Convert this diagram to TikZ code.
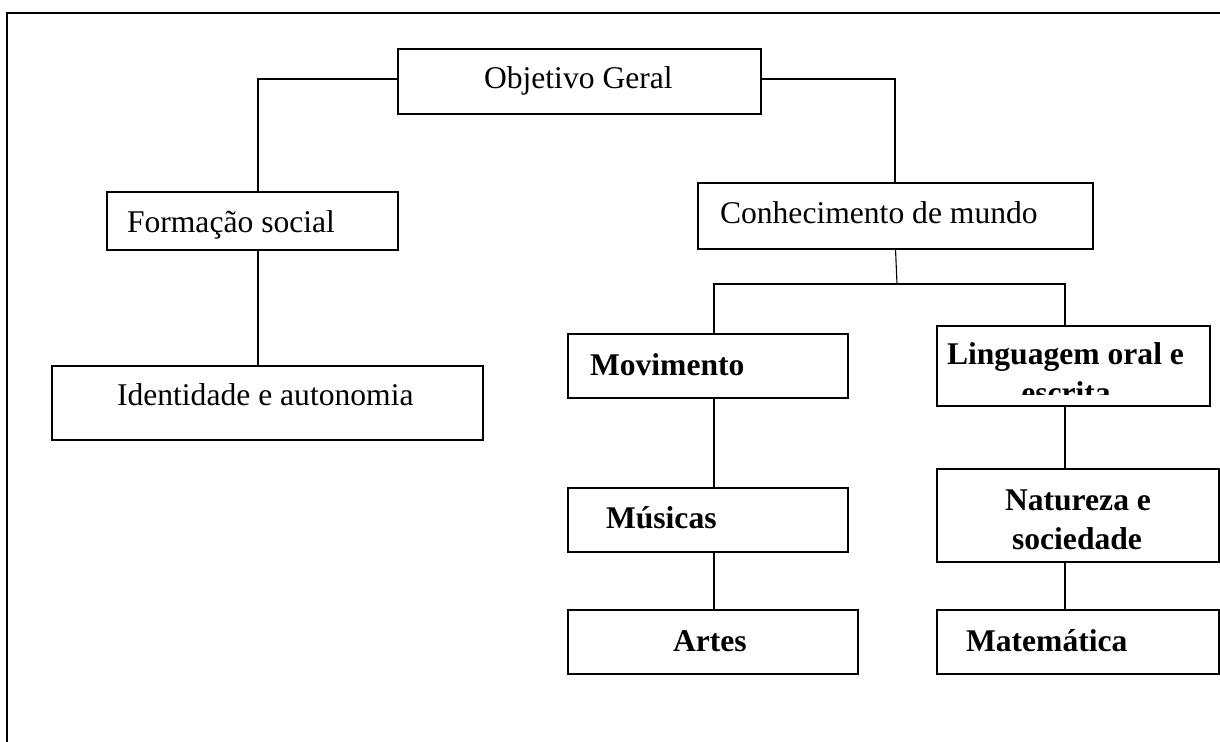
\documentclass[tikz,border=0pt]{standalone}
\usepackage{fontspec}
\setmainfont{Liberation Serif}
\usetikzlibrary{fit}
\begin{document}
\begin{tikzpicture}[x=0.5pt,y=-0.5pt,
  box/.style={draw=black,line width=0.65pt,inner sep=0pt,outer sep=0pt,fill=white},
  txt/.style={inner sep=0pt,outer sep=0pt,font=\fontsize{15.8}{18}\selectfont},
  btxt/.style={txt,font=\fontsize{15.8}{18}\selectfont\bfseries},
  conn/.style={draw=black,line width=0.55pt}]
\fill[white] (0,0) rectangle (1220,742);
\useasboundingbox (0,0) rectangle (1220,742);
% frame
\draw[line width=1pt] (1220,13) -- (7,13) -- (7,742);
% boxes
\node[box,fit={(398,49) (761,114)}] (obj) {};
\node[box,fit={(107,192) (398,250)}] (form) {};
\node[box,fit={(52,366) (483,440)}] (iden) {};
\node[box,fit={(698,183) (1093,249)}] (con) {};
\node[box,fit={(568,334) (848,398)}] (mov) {};
\node[box,fit={(937,326) (1210,406)}] (lin) {};
\node[box,fit={(568,488) (848,552)}] (mus) {};
\node[box,fit={(568,610) (858,674)}] (art) {};
\node[box,fit={(937,469) (1219,562)}] (nat) {};
\node[box,fit={(937,610) (1219,674)}] (mat) {};
% texts
\node[txt,anchor=base west] (tobj) at (484,89) {Objetivo Geral};
\node[txt,anchor=base west] (tform) at (127,233) {Formação social};
\node[txt,anchor=base west] (tiden) at (117,406) {Identidade e autonomia};
\node[txt,anchor=base west] (tcon) at (720,224) {Conhecimento de mundo};
\node[btxt,anchor=base west] (tmov) at (590,376) {Movimento};
\node[btxt,anchor=base west] (tlin) at (947,365) {Linguagem oral e};
\begin{scope}
  \clip (940,375) rectangle (1207,395);
  \node[btxt,anchor=base] (tesc) at (1066,404) {escrita};
\end{scope}
\node[btxt,anchor=base west] (tmus) at (606,529) {Músicas};
\node[btxt,anchor=base west] (tart) at (673,651) {Artes};
\node[btxt,anchor=base] (tnat1) at (1078,510) {Natureza e};
\node[btxt,anchor=base] (tnat2) at (1077,549) {sociedade};
\node[btxt,anchor=base west] (tmat) at (966,651) {Matemática};
% connector points
\coordinate (c1) at (258,79);
\coordinate (c2) at (895,79);
\coordinate (c3) at (897,284);
\coordinate (c4) at (714,284);
\coordinate (c5) at (1065,284);
% connectors
\draw[conn] (obj.west |- c1) -- (c1) -- (c1 |- form.north);
\draw[conn] (obj.east |- c2) -- (c2) -- (c2 |- con.north);
\draw[conn] (c1 |- form.south) -- (c1 |- iden.north);
\draw[conn] (con.south) -- (c3);
\draw[conn] (c4 |- mov.north) -- (c4) -- (c5) -- (c5 |- lin.north);
\draw[conn] (c4 |- mov.south) -- (c4 |- mus.north);
\draw[conn] (c4 |- mus.south) -- (c4 |- art.north);
\draw[conn] (c5 |- lin.south) -- (c5 |- nat.north);
\draw[conn] (c5 |- nat.south) -- (c5 |- mat.north);
\end{tikzpicture}
\end{document}
